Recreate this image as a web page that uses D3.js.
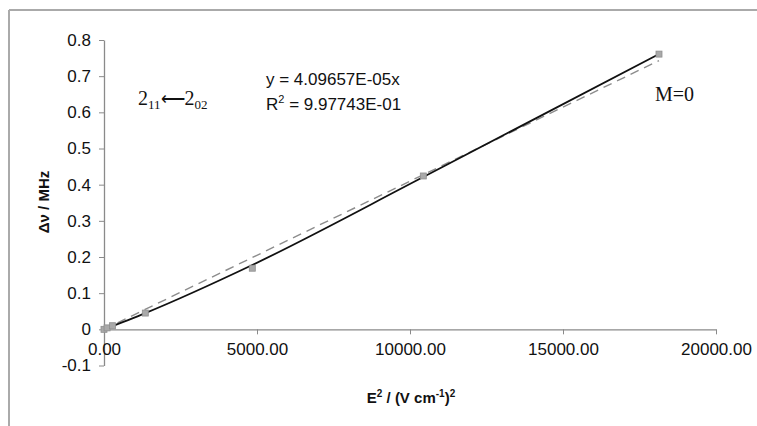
<!DOCTYPE html>
<html>
<head>
<meta charset="utf-8">
<script src="https://cdn.jsdelivr.net/npm/d3@7"></script>
<style>
  body { margin: 0; background: #fff; }
  svg { display: block; }
</style>
</head>
<body>
<div id="chart"></div>
<script>
// measured points (E^2, delta nu)
const fieldSq = [0, 100, 280, 1350, 4846, 10435, 18137];
const shift = [0, 0.004, 0.010, 0.045, 0.169, 0.424, 0.761];

// solid trace
const traceX = [0, 1350, 4846, 10435, 18137];
const traceY = [0, 0.045, 0.178, 0.421, 0.761];

const slope = 4.09657e-5;
const xTicks = [0, 5000, 10000, 15000, 20000];
const yTicks = [-0.1, 0, 0.1, 0.2, 0.3, 0.4, 0.5, 0.6, 0.7, 0.8];

const width = 757, height = 426;

const svg = d3.select('#chart').append('svg')
    .attr('width', width)
    .attr('height', height);

// frame
svg.append('line')
    .attr('x1', 9).attr('y1', 10).attr('x2', width).attr('y2', 10)
    .attr('stroke', '#aaa').attr('stroke-width', 2);
svg.append('line')
    .attr('x1', 9).attr('y1', 10).attr('x2', 9).attr('y2', height)
    .attr('stroke', '#aaa').attr('stroke-width', 2);

const x = d3.scaleLinear().domain([0, 20000]).range([104, 716]);
const y = d3.scaleLinear().domain([-0.1, 0.8]).range([365.5, 40]);

const axisColor = '#8a8a8a';

const yAxis = svg.append('g')
    .attr('transform', `translate(${x(0)},0)`)
    .call(d3.axisLeft(y).tickValues(yTicks).tickSize(5).tickSizeOuter(0)
        .tickFormat(d => Math.abs(d) < 1e-9 ? '0' : d.toFixed(1)));
yAxis.select('.domain').attr('stroke', axisColor).attr('stroke-width', 1.3);
yAxis.selectAll('.tick line').attr('stroke', axisColor);
yAxis.selectAll('.tick text')
    .attr('x', -13)
    .attr('fill', '#111')
    .style('font-family', 'Liberation Sans, Arial, sans-serif')
    .style('font-size', '17px');

const xAxis = svg.append('g')
    .attr('transform', `translate(0,${y(0)})`)
    .call(d3.axisBottom(x).tickValues(xTicks).tickSize(5).tickSizeOuter(0)
        .tickFormat(d => d.toFixed(2)));
xAxis.select('.domain').attr('stroke', axisColor).attr('stroke-width', 1.3);
xAxis.selectAll('.tick line').attr('stroke', axisColor);
xAxis.selectAll('.tick text')
    .attr('y', 26).attr('dy', 0)
    .attr('fill', '#111')
    .style('font-family', 'Liberation Sans, Arial, sans-serif')
    .style('font-size', '17px');

// fitted line (dashed)
const fitEnd = d3.max(fieldSq);
svg.append('line')
    .attr('x1', x(0)).attr('y1', y(0))
    .attr('x2', x(fitEnd)).attr('y2', y(slope * fitEnd))
    .attr('stroke', '#8c8c8c')
    .attr('stroke-width', 1.4)
    .attr('stroke-dasharray', '9,6');

// solid trace
const line = d3.line()
    .x((d, i) => x(traceX[i]))
    .y(d => y(d))
    .curve(d3.curveMonotoneX);
svg.append('path')
    .datum(traceY)
    .attr('d', line)
    .attr('fill', 'none')
    .attr('stroke', '#111')
    .attr('stroke-width', 1.8);

// markers
svg.selectAll('.pt')
    .data(fieldSq)
    .enter().append('rect')
    .attr('class', 'pt')
    .attr('x', d => x(d) - 3)
    .attr('y', (d, i) => y(shift[i]) - 3)
    .attr('width', 6)
    .attr('height', 6)
    .attr('fill', '#a9a9a9')
    .attr('stroke', '#8f8f8f')
    .attr('stroke-width', 0.8);

// axis titles
const xTitle = svg.append('text')
    .attr('x', 411).attr('y', 403)
    .attr('text-anchor', 'middle')
    .style('font-family', 'Liberation Sans, Arial, sans-serif')
    .style('font-size', '15px')
    .style('font-weight', 'bold')
    .attr('fill', '#111');
xTitle.append('tspan').text('E');
xTitle.append('tspan').text('2').attr('dy', -6).style('font-size', '10px');
xTitle.append('tspan').text(' / (V cm').attr('dy', 6);
xTitle.append('tspan').text('-1').attr('dy', -6).style('font-size', '10px');
xTitle.append('tspan').text(')').attr('dy', 6);
xTitle.append('tspan').text('2').attr('dy', -6).style('font-size', '10px');

svg.append('text')
    .attr('transform', 'translate(49,202) rotate(-90)')
    .attr('text-anchor', 'middle')
    .style('font-family', 'Liberation Sans, Arial, sans-serif')
    .style('font-size', '15px')
    .style('font-weight', 'bold')
    .attr('fill', '#111')
    .text('\u0394\u03BD / MHz');

// annotations
const trans = svg.append('text')
    .attr('x', 138).attr('y', 105)
    .style('font-family', 'Liberation Serif, Times New Roman, serif')
    .style('font-size', '20px')
    .attr('fill', '#111');
trans.append('tspan').text('2');
trans.append('tspan').text('11').attr('dy', 4).style('font-size', '13px');
trans.append('tspan').text('\u27F5').attr('dy', -4).style('font-size', '17px');
trans.append('tspan').text('2');
trans.append('tspan').text('02').attr('dy', 4).style('font-size', '13px');

svg.append('text')
    .attr('x', 266).attr('y', 85)
    .style('font-family', 'Liberation Sans, Arial, sans-serif')
    .style('font-size', '17px')
    .attr('fill', '#111')
    .text('y = 4.09657E-05x');

const r2 = svg.append('text')
    .attr('x', 266).attr('y', 110)
    .style('font-family', 'Liberation Sans, Arial, sans-serif')
    .style('font-size', '17px')
    .attr('fill', '#111');
r2.append('tspan').text('R');
r2.append('tspan').text('2').attr('dy', -7).style('font-size', '11px');
r2.append('tspan').text(' = 9.97743E-01').attr('dy', 7);

svg.append('text')
    .attr('x', 655).attr('y', 101)
    .style('font-family', 'Liberation Serif, Times New Roman, serif')
    .style('font-size', '20px')
    .attr('fill', '#111')
    .text('M=0');
</script>
</body>
</html>
